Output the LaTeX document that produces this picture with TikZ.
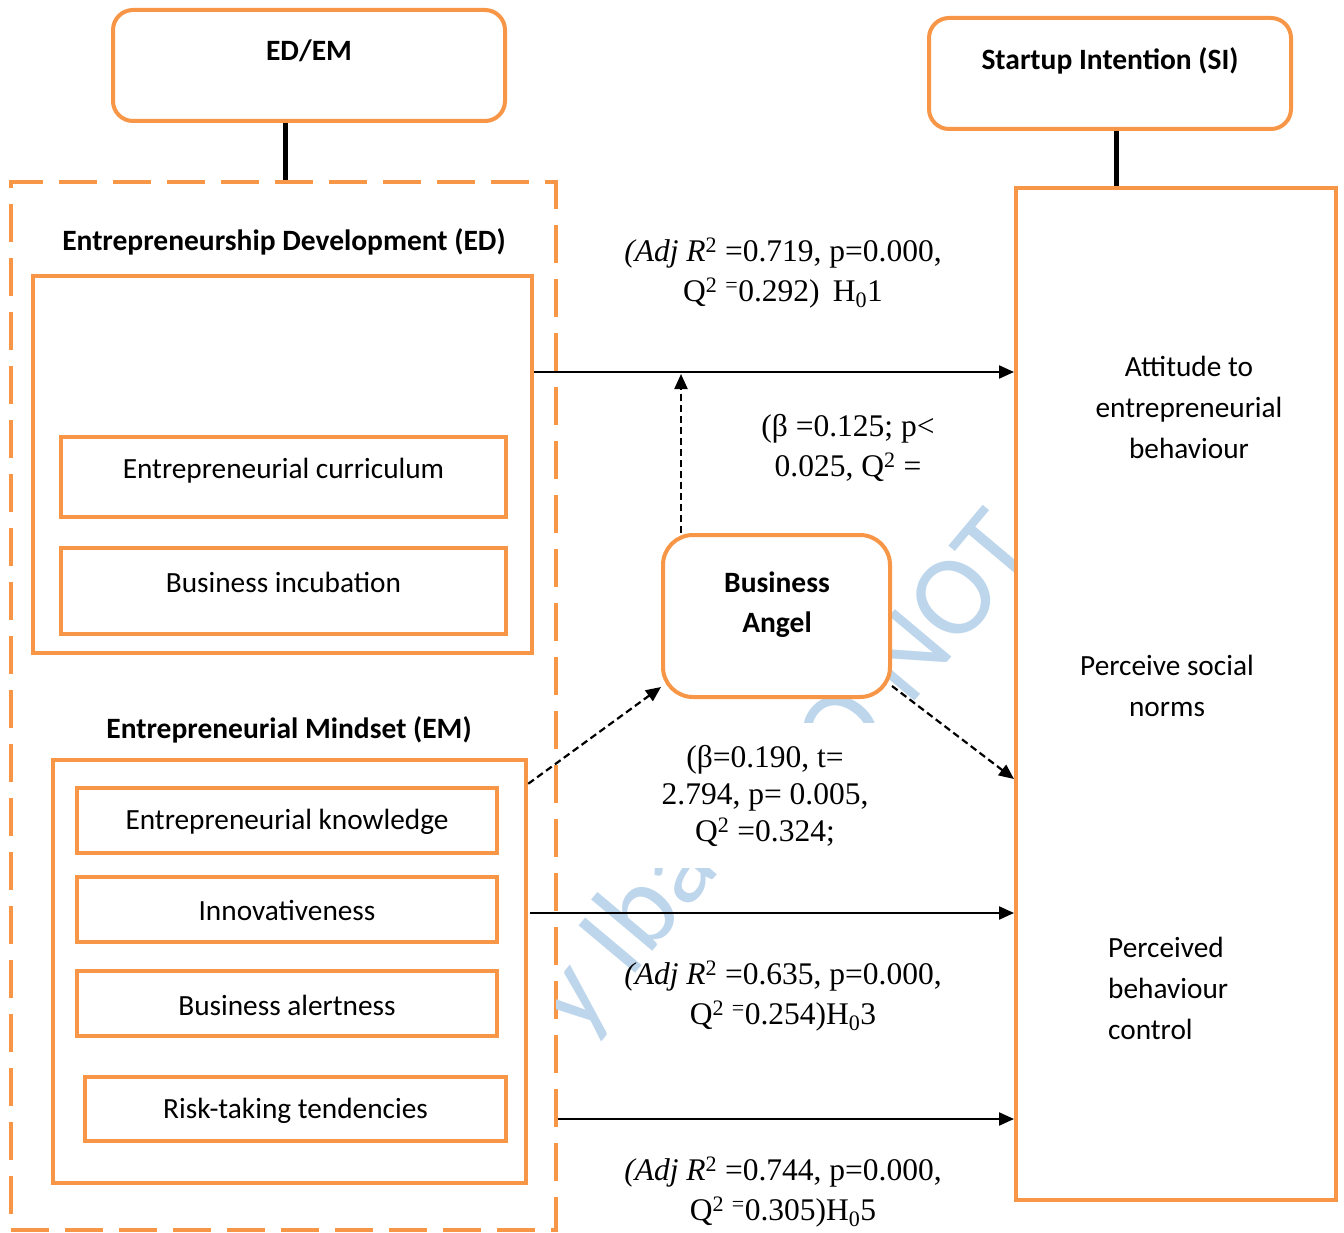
\documentclass[tikz,border=0pt]{standalone}
\usepackage{fontspec}
\setmainfont{Liberation Serif}
\newfontfamily\calfont{Carlito}
\usetikzlibrary{arrows.meta}
\definecolor{boxorange}{RGB}{247,150,70}
\definecolor{wmblue}{RGB}{190,214,236}

\begin{document}
\begin{tikzpicture}[x=1pt,y=-1pt,
  obox/.style={draw=boxorange, line width=4.5pt, fill=white, inner sep=0pt},
  ibox/.style={obox, line width=4pt},
  rbox/.style={obox, line width=4pt, rounded corners=20pt},
  dbox/.style={draw=boxorange, line width=3.5pt, dash pattern=on 38pt off 16pt, fill=white, inner sep=0pt},
  ctext/.style={font=\calfont\fontsize{29.3}{41}\selectfont, align=center, inner sep=0pt},
  btext/.style={font=\calfont\bfseries\fontsize{29.5}{40}\selectfont, align=center, inner sep=0pt},
  stat/.style={font=\fontsize{31.5}{40}\selectfont, align=center, inner sep=0pt},
  conn/.style={line width=5pt},
  arr/.style={line width=2.2pt, -{Triangle[length=15pt,width=13pt]}},
  darr/.style={arr, dash pattern=on 7pt off 4pt},
  wm/.style={font=\calfont\fontsize{115}{115}\selectfont, text=wmblue, rotate=50, inner sep=0pt, anchor=base west}
]
\useasboundingbox (0,0) rectangle (1344,1233);

% outer dashed container of the two constructs
\node[dbox, minimum width=545, minimum height=1048] (outer) at (283.5,706) {};

% faint diagonal watermark in the free middle strip
\begin{scope}
  \clip (556,180) rectangle (1016,1233);
  \node[wm] (wm1) at (579,1040) {y Ibad};
  \node[wm] (wm2) at (844,786) {O NOT C};
\end{scope}

% top headings
\node[rbox, minimum width=392, minimum height=111] (edem) at (309,65.5) {};
\node[btext] (edemt) at (309,51) {ED/EM};
\node[rbox, minimum width=362, minimum height=111] (sihead) at (1110,73.5) {};
\node[btext] (siheadt) at (1110,61) {Startup Intention (SI)};

% Entrepreneurship Development
\node[btext] (edt) at (284,242) {Entrepreneurship Development (ED)};
\node[obox, minimum width=499, minimum height=377] (edbox) at (282.5,464.5) {};
\node[ibox, minimum width=445, minimum height=80] (curr) at (283.5,477) {};
\node[ctext] (currt) at (283.5,471) {Entrepreneurial curriculum};
\node[ibox, minimum width=445, minimum height=86] (incub) at (283.5,591) {};
\node[ctext] (incubt) at (283.5,582) {Business incubation};

% Entrepreneurial Mindset
\node[btext] (emt) at (289,730) {Entrepreneurial Mindset (EM)};
\node[obox, minimum width=473, minimum height=423] (embox) at (289.5,971.5) {};
\node[ibox, minimum width=420, minimum height=65] (know) at (287,820.5) {};
\node[ctext] (knowt) at (287,822) {Entrepreneurial knowledge};
\node[ibox, minimum width=420, minimum height=65] (innov) at (287,909.5) {};
\node[ctext] (innovt) at (287,910.5) {Innovativeness};
\node[ibox, minimum width=420, minimum height=65] (alert) at (287,1003.5) {};
\node[ctext] (alertt) at (287,1005) {Business alertness};
\node[ibox, minimum width=421, minimum height=64] (risk) at (295.5,1109) {};
\node[ctext] (riskt) at (295.5,1111) {Risk-taking tendencies};

% Startup Intention dimensions
\node[ibox, minimum width=320, minimum height=1012] (sibox) at (1176,694) {};
\node[ctext] (att) at (1189,407) {Attitude to\\entrepreneurial\\behaviour};
\node[ctext] (psn) at (1167,685.5) {Perceive social\\norms};
\node[ctext, align=left, anchor=west] (pbc) at (1108,988) {Perceived\\behaviour\\control};

% moderator
\node[rbox, rounded corners=30pt, minimum width=227, minimum height=162] (ba) at (776.5,616) {};
\node[btext] (bat) at (777,605) {Business\\Angel};

% links from the headings
\draw[conn] (edem.south -| 285,0) -- (outer.north -| 285,0);
\draw[conn] (sihead.south -| 1116,0) -- (sibox.north -| 1116,0);

% path coefficients
\node[stat] (s1) at (783,273) {\textit{(Adj R}\textsuperscript{2} =0.719, p=0.000,\\Q\textsuperscript{2} \textsuperscript{=}0.292) \,H\textsubscript{0}1};
\node[stat] (s2) at (848,448) {(β =0.125; p<\\0.025, Q\textsuperscript{2} =};
\node[stat, fill=white, minimum width=230, minimum height=145, font=\fontsize{31.5}{37}\selectfont] (s3) at (765,795.5) {(β=0.190, t=\\2.794, p= 0.005,\\Q\textsuperscript{2} =0.324;};
\node[stat] (s4) at (783,996) {\textit{(Adj R}\textsuperscript{2} =0.635, p=0.000,\\Q\textsuperscript{2} \textsuperscript{=}0.254)H\textsubscript{0}3};
\node[stat] (s5) at (783,1192) {\textit{(Adj R}\textsuperscript{2} =0.744, p=0.000,\\Q\textsuperscript{2} \textsuperscript{=}0.305)H\textsubscript{0}5};

% connectors
\coordinate (h1) at (0,372);
\coordinate (h5) at (0,913);
\coordinate (h6) at (0,1119);
\coordinate (v1) at (681,0);
\draw[arr] (edbox.east |- h1) -- (sibox.west |- h1);
\draw[darr] (ba.north -| v1) -- ([yshift=-2pt]v1 |- h1);
\draw[darr] ([yshift=-26pt]embox.north east) -- ([yshift=12pt]ba.south west);
\draw[darr] ([yshift=13pt]ba.south east) -- ([yshift=-85pt]sibox.west);
\draw[arr] ([xshift=2pt]embox.east |- h5) -- (sibox.west |- h5);
\draw[arr] (outer.east |- h6) -- (sibox.west |- h6);
\end{tikzpicture}
\end{document}
